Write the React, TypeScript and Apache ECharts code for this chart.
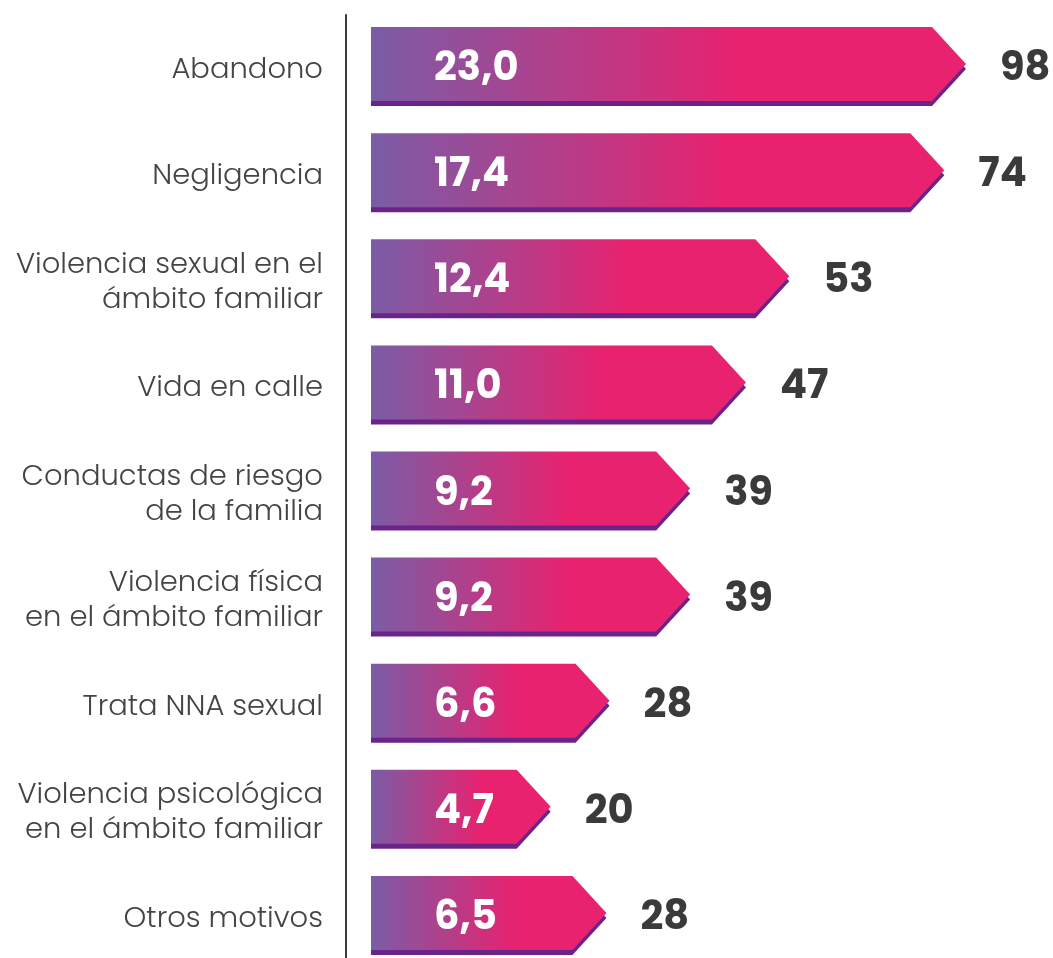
import React, { useEffect, useRef } from "react";
import * as echarts from "echarts";

const categories = [
  "Abandono",
  "Negligencia",
  "Violencia sexual en el\námbito familiar",
  "Vida en calle",
  "Conductas de riesgo\nde la familia",
  "Violencia física\nen el ámbito familiar",
  "Trata NNA sexual",
  "Violencia psicológica\nen el ámbito familiar",
  "Otros motivos",
];
const percentages = [23.0, 17.4, 12.4, 11.0, 9.2, 9.2, 6.6, 4.7, 6.5];
const counts = [98, 74, 53, 47, 39, 39, 28, 20, 28];
const axisMax = 18.1;

const FONT = "Poppins, Inter, 'Noto Sans', sans-serif";

export default function App() {
  const ref = useRef<HTMLDivElement>(null);
  useEffect(() => {
    if (!ref.current) return;
    const chart = echarts.init(ref.current, undefined, { renderer: "svg" });
    const data = percentages.map((p, i) => [p, i, counts[i]]);
    chart.setOption({
      animation: false,
      grid: { left: 371, top: 15, width: 561, height: 955 },
      xAxis: { type: "value", min: 0, max: axisMax, show: false },
      yAxis: {
        type: "category",
        data: categories,
        inverse: true,
        offset: 25,
        axisLine: {
          show: true,
          onZero: false,
          lineStyle: { color: "#3a3a3a", width: 2 },
        },
        axisTick: { show: false },
        splitLine: { show: false },
        axisLabel: {
          fontSize: 29,
          fontWeight: 300,
          fontFamily: FONT,
          color: "#444444",
          lineHeight: 35,
          margin: 23,
          align: "right",
        },
      },
      series: [
        {
          type: "custom",
          data,
          encode: { x: 0, y: 1 },
          clip: false,
          renderItem: (params: any, api: any) => {
            const v = api.value(0);
            const cat = api.value(1);
            const cnt = api.value(2);
            const start = api.coord([0, cat]);
            const end = api.coord([Math.min(v, axisMax), cat]);
            const h = 74;
            const arrow = 34;
            const x0 = start[0];
            const x1 = end[0];
            const yc = start[1] - 4;
            const pts = (dy: number) => [
              [x0, yc - h / 2 + dy],
              [x1, yc - h / 2 + dy],
              [x1 + arrow, yc + dy],
              [x1, yc + h / 2 + dy],
              [x0, yc + h / 2 + dy],
            ];
            return {
              type: "group",
              children: [
                {
                  type: "polygon",
                  shape: { points: pts(5) },
                  style: { fill: "#6a2389" },
                },
                {
                  type: "polygon",
                  shape: { points: pts(0) },
                  style: {
                    fill: new echarts.graphic.LinearGradient(0, 0, 1, 0, [
                      { offset: 0, color: "#7b5ca6" },
                      { offset: 0.62, color: "#e8226f" },
                      { offset: 1, color: "#e8226f" },
                    ]),
                  },
                },
                {
                  type: "text",
                  style: {
                    text: v.toFixed(1).replace(".", ","),
                    x: x0 + 63,
                    y: yc + 2,
                    fill: "#ffffff",
                    fontSize: 40,
                    fontWeight: 700,
                    fontFamily: FONT,
                    align: "left",
                    verticalAlign: "middle",
                  },
                },
                {
                  type: "text",
                  style: {
                    text: String(cnt),
                    x: x1 + arrow + 34,
                    y: yc + 2,
                    fill: "#3a3a3a",
                    fontSize: 40,
                    fontWeight: 700,
                    fontFamily: FONT,
                    align: "left",
                    verticalAlign: "middle",
                  },
                },
              ],
            };
          },
        },
      ],
    });
    return () => chart.dispose();
  }, []);
  return (
    <div
      ref={ref}
      style={{ position: "fixed", left: 0, top: 0, width: 1053, height: 980 }}
    />
  );
}
